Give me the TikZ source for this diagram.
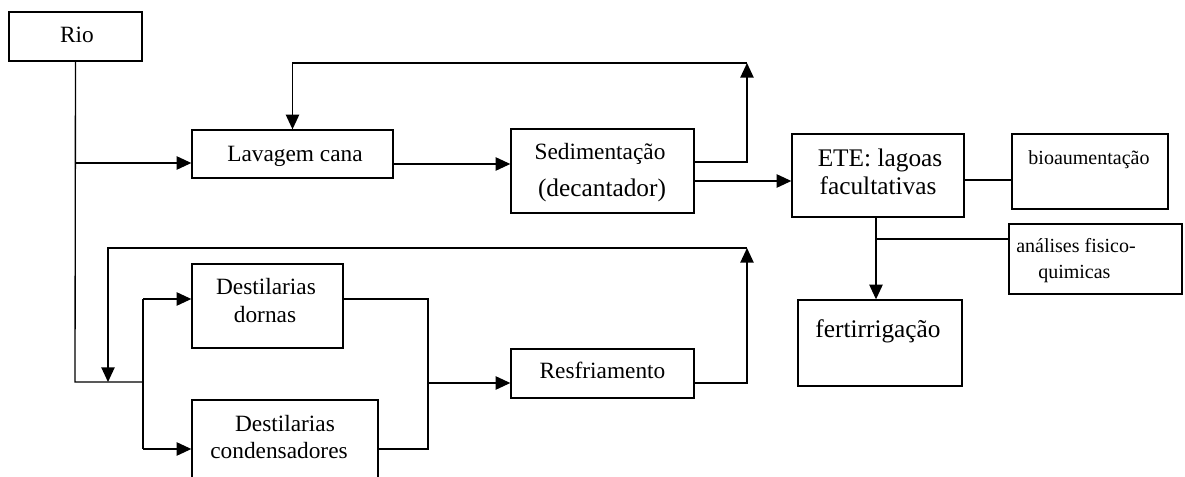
\documentclass[tikz,border=0pt]{standalone}
\usepackage{fontspec}
\setmainfont{Liberation Serif}
\usetikzlibrary{arrows.meta}
\newcommand\pxu{0.75pt}
\tikzset{
  box/.style 2 args={draw, line width=1pt, inner sep=0pt,
    minimum width=#1*\pxu, minimum height=#2*\pxu},
  wire/.style={line width=1pt},
  arr/.style={wire, -{Triangle[length=11pt,width=10pt]}},
  lbl/.style={inner sep=0pt, anchor=base, font=\fontsize{17.5}{21}\selectfont},
  big/.style={lbl, font=\fontsize{19}{23}\selectfont},
  small/.style={lbl, font=\fontsize{15}{18}\selectfont},
}
\begin{document}
\begin{tikzpicture}[x=0.75pt, y=-0.75pt]
\useasboundingbox (0,0) rectangle (1185,477);
\clip (0,0) rectangle (1185,477);

% process boxes
\node[box={133}{49}]  (rio) at (75.5,36.5) {};
\node[box={201}{48}]  (lav) at (292.5,154) {};
\node[box={183}{84}]  (sed) at (602.5,171) {};
\node[box={172}{83}]  (ete) at (878,175.5) {};
\node[box={156}{75}]  (bio) at (1090,171.5) {};
\node[box={173}{70}]  (ana) at (1095.5,259) {};
\node[box={164}{86}]  (fer) at (880,343) {};
\node[box={151}{84}]  (dor) at (267.5,306) {};
\node[box={186}{90}]  (con) at (285,445) {};
\node[box={183}{49}]  (res) at (602.5,373.5) {};

% labels
\node[lbl] (trio) at (77,43) {Rio};
\node[lbl] (tlav) at (295,162) {Lavagem cana};
\node[lbl] (tsed1) at (600,160) {Sedimentação};
\node[big] (tsed2) at (602,197) {(decantador)};
\node[big] (tete1) at (880,167) {ETE: lagoas};
\node[big] (tete2) at (878,195) {facultativas};
\node[small] (tbio) at (1089,165) {bioaumentação};
\node[small, anchor=base west] (tana1) at (1016,253) {análises fisico-};
\node[small, anchor=base west] (tana2) at (1038,279) {quimicas};
\node[big] (tfer) at (878,338) {fertirrigação};
\node[lbl] (tdor1) at (266,295) {Destilarias};
\node[lbl] (tdor2) at (265,323) {dornas};
\node[lbl] (tcon1) at (285,431) {Destilarias};
\node[lbl] (tcon2) at (279,458) {condensadores};
\node[lbl] (tres) at (602.5,378) {Resfriamento};

% junction and bend points
\coordinate (jlav) at (75,163);
\coordinate (jdist) at (75,382);
\coordinate (split) at (143,382);
\coordinate (sdor) at (143,299);
\coordinate (scon) at (143,449);
\coordinate (mdor) at (428,299);
\coordinate (mcon) at (428,449);
\coordinate (mres) at (428,383);
\coordinate (ytop) at (747,63);
\coordinate (ybot) at (747,248);
\coordinate (rret) at (108,382);
\coordinate (yls) at (0,164);
\coordinate (ysu) at (0,162);
\coordinate (yse) at (0,181);
\coordinate (yeb) at (0,180);
\coordinate (xef) at (876,0);
\coordinate (jana) at (876,239);

% river supply
\draw[wire] (rio.south) -- (jdist) -- (split);
\draw[arr] (jlav) -- (lav.west |- jlav);
\draw[wire] (sdor) -- (scon);
\draw[arr] (sdor) -- (dor.west |- sdor);
\draw[arr] (scon) -- (con.west |- scon);

% washing and settling
\draw[arr] (lav.east |- yls) -- (sed.west |- yls);
\draw[arr] (sed.east |- ysu) -| (ytop);
\draw[arr] (ytop) -| (lav.north);
\draw[arr] (sed.east |- yse) -- (ete.west |- yse);

% treatment
\draw[wire] (ete.east |- yeb) -- (bio.west |- yeb);
\draw[arr] (ete.south -| xef) -- (fer.north -| xef);
\draw[wire] (jana) -- (ana.west |- jana);

% distillery cooling loop
\draw[wire] (dor.east |- mdor) -- (mdor) -- (mcon) -- (con.east |- mcon);
\draw[arr] (mres) -- (res.west |- mres);
\draw[arr] (res.east |- mres) -| (ybot);
\draw[arr] (ybot) -| (rret);
\end{tikzpicture}
\end{document}
